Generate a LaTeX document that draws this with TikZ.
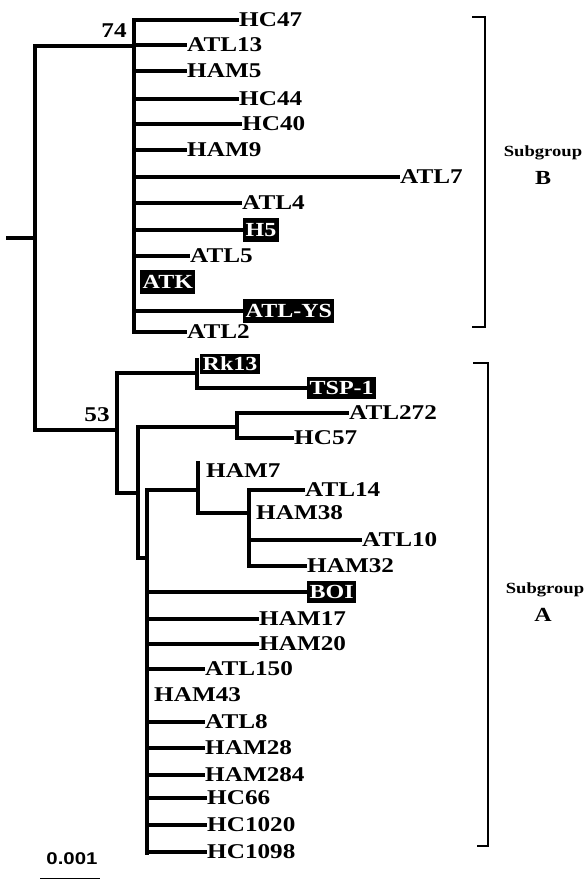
\documentclass[tikz,border=0pt]{standalone}
\usepackage{fontspec}
\setmainfont{Liberation Serif}[FakeStretch=1.2]
\newfontfamily\sansb{Liberation Sans}[FakeStretch=1.2]
\begin{document}
\begin{tikzpicture}[x=1pt,y=-1pt,
  br/.style={line width=3.1pt,line cap=rect},
  lab/.style={anchor=west,inner xsep=2pt,inner ysep=0pt,font=\fontsize{21}{21}\selectfont\bfseries},
  boxlab/.style={anchor=west,inner xsep=2.5pt,inner ysep=5pt,fill=black,text=white,font=\fontsize{20}{20}\selectfont\bfseries},
  boot/.style={font=\fontsize{21}{21}\selectfont\bfseries,inner sep=0pt},
  brk/.style={line width=1.6pt},
  sg/.style={font=\fontsize{15.5}{15.5}\selectfont\bfseries,inner sep=0pt},
  sgl/.style={font=\fontsize{20}{20}\selectfont\bfseries,inner sep=0pt}]
\useasboundingbox (0,0) rectangle (584,879);
% internal node coordinates
\coordinate (stub) at (8,238);
\coordinate (rtop) at (35,46);
\coordinate (rbot) at (35,430);
\coordinate (rmid) at (35,238);
\coordinate (Btop) at (134,20);
\coordinate (Bbot) at (134,332);
\coordinate (Bj) at (134,46);
\coordinate (Atop) at (117,373);
\coordinate (Abot) at (117,493);
\coordinate (Aj) at (117,430);
\coordinate (Rtop) at (197,360);
\coordinate (Rbot) at (197,388);
\coordinate (Rj) at (197,373);
\coordinate (Ctop) at (138,427);
\coordinate (Cbot) at (138,558);
\coordinate (Cj) at (138,493);
\coordinate (Dtop) at (237,413);
\coordinate (Dbot) at (237,438);
\coordinate (Dj) at (237,427);
\coordinate (Ptop) at (147,490);
\coordinate (Pbot) at (147,853);
\coordinate (Pj) at (147,558);
\coordinate (Htop) at (198,463);
\coordinate (Hbot) at (198,513);
\coordinate (Hj) at (198,490);
\coordinate (Gtop) at (249,490);
\coordinate (Gbot) at (249,566);
\coordinate (Gj) at (249,513);
% backbone
\draw[br] (stub) -- (rmid);
\draw[br] (rtop) -- (rbot);
\draw[br] (rtop) -- (Bj);
\draw[br] (rbot) -- (Aj);
\draw[br] (Btop) -- (Bbot);
\draw[br] (Atop) -- (Abot);
\draw[br] (Atop) -- (Rj);
\draw[br] (Rtop) -- (Rbot);
\draw[br] (Abot) -- (Cj);
\draw[br] (Ctop) -- (Cbot);
\draw[br] (Ctop) -- (Dj);
\draw[br] (Dtop) -- (Dbot);
\draw[br] (Cbot) -- (Pj);
\draw[br] (Ptop) -- (Pbot);
\draw[br] (Ptop) -- (Hj);
\draw[br] (Htop) -- (Hbot);
\draw[br] (Hbot) -- (Gj);
\draw[br] (Gtop) -- (Gbot);
% bootstrap values
\node[boot] (b74) at (114,31) {74};
\node[boot] (b53) at (97,415) {53};
% subgroup B leaves
\node[lab] (HC47) at (237,20) {HC47};
\node[lab] (ATL13) at (185,45) {ATL13};
\node[lab] (HAM5) at (185,71) {HAM5};
\node[lab] (HC44) at (237,99) {HC44};
\node[lab] (HC40) at (240,124) {HC40};
\node[lab] (HAM9) at (185,150) {HAM9};
\node[lab] (ATL7) at (398,177) {ATL7};
\node[lab] (ATL4) at (240,203) {ATL4};
\node[boxlab] (H5) at (243,230) {H5};
\node[lab] (ATL5) at (188,256) {ATL5};
\node[boxlab] (ATK) at (140,282) {ATK};
\node[boxlab] (ATLYS) at (243,311) {ATL-YS};
\node[lab] (ATL2) at (185,332) {ATL2};
\foreach \n in {HC47,ATL13,HAM5,HC44,HC40,HAM9,ATL7,ATL4,H5,ATL5,ATLYS,ATL2}
  \draw[br] (\n.west -| Btop) -- (\n.west);
% subgroup A leaves
\node[boxlab,inner ysep=3pt] (Rk13) at (200,364) {Rk13};
\node[boxlab,inner ysep=4pt] (TSP1) at (307,388) {TSP-1};
\draw[br] (Rbot) -- (TSP1.west);
\node[lab] (ATL272) at (347,413) {ATL272};
\node[lab] (HC57) at (292,438) {HC57};
\draw[br] (Dtop) -- (ATL272.west);
\draw[br] (Dbot) -- (HC57.west);
\node[lab] (HAM7) at (204,471) {HAM7};
\node[lab] (ATL14) at (303,490) {ATL14};
\node[lab] (HAM38) at (254,513) {HAM38};
\node[lab] (ATL10) at (360,540) {ATL10};
\node[lab] (HAM32) at (305,566) {HAM32};
\foreach \n in {ATL14,ATL10,HAM32}
  \draw[br] (\n.west -| Gtop) -- (\n.west);
\node[boxlab,inner ysep=4pt] (BOI) at (307,592) {BOI};
\node[lab] (HAM17) at (257,619) {HAM17};
\node[lab] (HAM20) at (257,644) {HAM20};
\node[lab] (ATL150) at (203,669) {ATL150};
\node[lab] (HAM43) at (152,695) {HAM43};
\node[lab] (ATL8) at (203,722) {ATL8};
\node[lab] (HAM28) at (203,748) {HAM28};
\node[lab] (HAM284) at (203,775) {HAM284};
\node[lab] (HC66) at (205,798) {HC66};
\node[lab] (HC1020) at (205,825) {HC1020};
\node[lab] (HC1098) at (205,852) {HC1098};
\foreach \n in {BOI,HAM17,HAM20,ATL150,ATL8,HAM28,HAM284,HC66,HC1020,HC1098}
  \draw[br] (\n.west -| Ptop) -- (\n.west);
% brackets
\coordinate (Bk1) at (472,17);
\coordinate (Bk2) at (485,17);
\coordinate (Bk3) at (485,327);
\coordinate (Bk4) at (472,327);
\draw[brk] (Bk1) -- (Bk2) -- (Bk3) -- (Bk4);
\coordinate (Ak1) at (473,363);
\coordinate (Ak2) at (488,363);
\coordinate (Ak3) at (488,846);
\coordinate (Ak4) at (477,846);
\draw[brk] (Ak1) -- (Ak2) -- (Ak3) -- (Ak4);
\node[sg] (sgB) at (543,153) {Subgroup};
\node[sgl] (sgBl) at (543,178) {B};
\node[sg] (sgA) at (545,590) {Subgroup};
\node[sgl] (sgAl) at (543,615) {A};
% scale
\node[font=\sansb\fontsize{17}{17}\selectfont\bfseries,inner sep=0pt] (scl) at (72,859) {0.001};
\coordinate (s1) at (40,878);
\coordinate (s2) at (100,878);
\draw[line width=1pt] (s1) -- (s2);
\end{tikzpicture}
\end{document}
